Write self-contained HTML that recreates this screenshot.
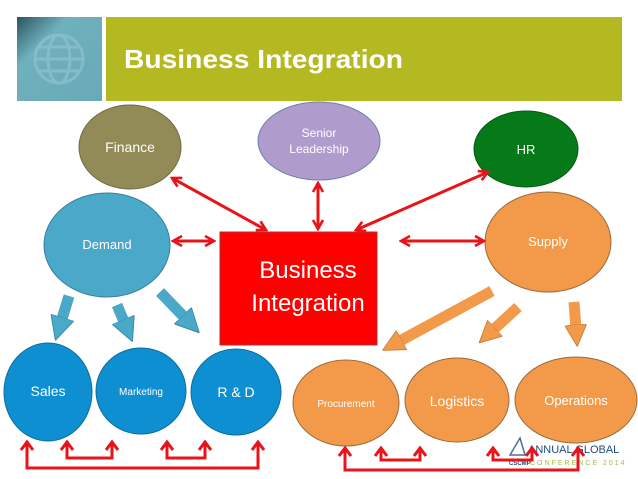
<!DOCTYPE html>
<html><head><style>html,body{margin:0;padding:0;background:#fff}svg{display:block}text{font-family:"Liberation Sans",sans-serif}</style></head>
<body>
<svg width="638" height="479" viewBox="0 0 638 479" xmlns="http://www.w3.org/2000/svg">
<defs>
<marker id="r" viewBox="0 0 12 12" refX="10" refY="6" markerWidth="12" markerHeight="12" markerUnits="userSpaceOnUse" orient="auto-start-reverse">
<path d="M1,1 L10,6 L1,11" fill="none" stroke="#e8141a" stroke-width="2.6"/></marker>
<marker id="b" viewBox="0 0 10 10" refX="2" refY="5" markerWidth="24" markerHeight="24" markerUnits="userSpaceOnUse" orient="auto">
<path d="M0,0 L10,5 L0,10 Z" fill="#4aa8c8" stroke="#3a8aa8" stroke-width="0.4"/></marker>
<marker id="o" viewBox="0 0 10 10" refX="2" refY="5" markerWidth="22" markerHeight="22" markerUnits="userSpaceOnUse" orient="auto">
<path d="M0,0 L10,5 L0,10 Z" fill="#f39a4a" stroke="#c07a3a" stroke-width="0.4"/></marker>
<linearGradient id="tg" x1="0" y1="0" x2="1" y2="1"><stop offset="0" stop-color="#2c5560"/><stop offset="0.3" stop-color="#6fb0bc"/><stop offset="1" stop-color="#6aaab8"/></linearGradient>
</defs>
<rect x="17" y="17" width="85" height="84" fill="url(#tg)"/>
<g stroke="#8ec4cf" stroke-width="3" opacity="0.7" fill="none">
<circle cx="59" cy="59" r="24"/>
<ellipse cx="59" cy="59" rx="11" ry="24"/>
<line x1="35" y1="59" x2="83" y2="59"/>
<line x1="39" y1="47" x2="79" y2="47"/>
<line x1="39" y1="71" x2="79" y2="71"/>
</g>
<rect x="106" y="17" width="516" height="84" fill="#b4b821"/>
<text x="124" y="68" font-size="26" font-weight="bold" fill="#fff" textLength="279" lengthAdjust="spacingAndGlyphs">Business Integration</text>

<ellipse cx="130" cy="147" rx="51" ry="42" fill="#928a57" stroke="#6e6a48"/>
<text x="130" y="152" font-size="14" fill="#fff" text-anchor="middle">Finance</text>
<ellipse cx="319" cy="141" rx="61" ry="39" fill="#b09ccc" stroke="#6f7fb0"/>
<text x="319" y="137" font-size="12" fill="#fff" text-anchor="middle">Senior</text>
<text x="319" y="153" font-size="12" fill="#fff" text-anchor="middle">Leadership</text>
<ellipse cx="526" cy="149" rx="52" ry="38" fill="#067a18" stroke="#055a14"/>
<text x="526" y="154" font-size="13" fill="#fff" text-anchor="middle">HR</text>
<ellipse cx="107" cy="245" rx="63" ry="52" fill="#4aa8c8" stroke="#3a7f9c"/>
<text x="107" y="249" font-size="13" fill="#fff" text-anchor="middle">Demand</text>
<ellipse cx="548" cy="242" rx="63" ry="50" fill="#f39a4a" stroke="#9a6a3a"/>
<text x="548" y="246" font-size="13" fill="#fff" text-anchor="middle">Supply</text>
<rect x="220" y="232" width="157" height="113" fill="#ff0000" stroke="#b03030"/>
<text x="308" y="278" font-size="24" fill="#fff" text-anchor="middle">Business</text>
<text x="308" y="311" font-size="24" fill="#fff" text-anchor="middle">Integration</text>

<g stroke="#e8141a" stroke-width="3" fill="none" marker-start="url(#r)" marker-end="url(#r)">
<line x1="172" y1="178" x2="266" y2="230"/>
<line x1="318" y1="183" x2="318" y2="229"/>
<line x1="356" y1="230" x2="488" y2="172"/>
<line x1="173" y1="241" x2="214" y2="241"/>
<line x1="401" y1="241" x2="484" y2="241"/>
</g>

<g stroke-width="11" stroke-linecap="butt">
<line x1="69" y1="296" x2="61" y2="322" stroke="#4aa8c8" marker-end="url(#b)"/>
<line x1="117" y1="305" x2="125" y2="324" stroke="#4aa8c8" marker-end="url(#b)"/>
<line x1="160" y1="292" x2="186" y2="319" stroke="#4aa8c8" marker-end="url(#b)"/>
<line x1="492" y1="291" x2="398" y2="342" stroke="#f39a4a" marker-end="url(#o)"/>
<line x1="518" y1="307" x2="492" y2="331" stroke="#f39a4a" marker-end="url(#o)"/>
<line x1="574" y1="302" x2="576" y2="329" stroke="#f39a4a" marker-end="url(#o)"/>
</g>

<ellipse cx="48" cy="392" rx="44" ry="49" fill="#0d8fd2" stroke="#0a6ea0"/>
<text x="48" y="396" font-size="14" fill="#fff" text-anchor="middle">Sales</text>
<ellipse cx="141" cy="391" rx="45" ry="43" fill="#0d8fd2" stroke="#0a6ea0"/>
<text x="141" y="395" font-size="10" fill="#fff" text-anchor="middle">Marketing</text>
<ellipse cx="236" cy="392" rx="45" ry="43" fill="#0d8fd2" stroke="#0a6ea0"/>
<text x="236" y="397" font-size="14" fill="#fff" text-anchor="middle">R &amp; D</text>
<ellipse cx="346" cy="403" rx="53" ry="43" fill="#f39a4a" stroke="#9a6a3a"/>
<text x="346" y="407" font-size="10" fill="#fff" text-anchor="middle">Procurement</text>
<ellipse cx="457" cy="400" rx="52" ry="42" fill="#f39a4a" stroke="#9a6a3a"/>
<text x="457" y="406" font-size="14" fill="#fff" text-anchor="middle">Logistics</text>
<ellipse cx="576" cy="400" rx="61" ry="43" fill="#f39a4a" stroke="#9a6a3a"/>
<text x="576" y="405" font-size="13" fill="#fff" text-anchor="middle">Operations</text>

<path d="M510,455 L520,438 L525,455 Z" fill="none" stroke="#4a6f9a" stroke-width="1.5"/>
<text x="528" y="453" font-size="11" fill="#1d4e7a" font-family="Liberation Serif,serif">ANNUAL GLOBAL</text>
<text x="509" y="465" font-size="6" fill="#1d4e7a" font-weight="bold">CSCMP</text>
<text x="530" y="465" font-size="7" fill="#a6b84a" letter-spacing="2">CONFERENCE 2014</text>

<g stroke="#e8141a" stroke-width="3" fill="none">
<polyline points="27,443 27,468 258,468 258,443"/>
<polyline points="67,443 67,458 112,458 112,443"/>
<polyline points="167,443 167,458 205,458 205,443"/>
<polyline points="345,449 345,470 578,470 578,449"/>
<polyline points="381,451 381,460 420,460 420,451"/>
<polyline points="493,451 493,460 532,460 532,451"/>
<path d="M21,450 L27,442 L33,450 M61,450 L67,442 L73,450 M106,450 L112,442 L118,450 M161,450 L167,442 L173,450 M199,450 L205,442 L211,450 M252,450 L258,442 L264,450"/>
<path d="M339,456 L345,448 L351,456 M375,456 L381,448 L387,456 M414,456 L420,448 L426,456 M487,456 L493,448 L499,456 M526,456 L532,448 L538,456 M572,456 L578,448 L584,456"/>
</g>
</svg>
</body></html>
